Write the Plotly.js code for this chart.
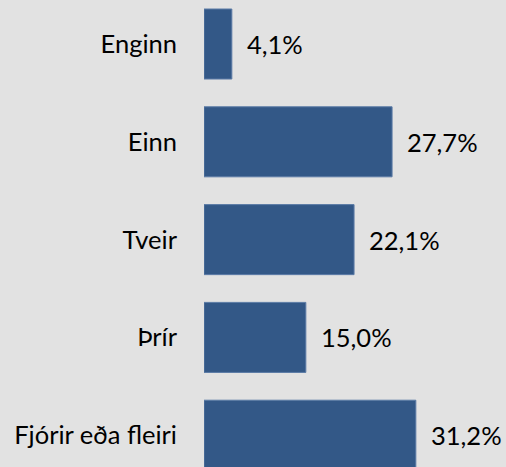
<!DOCTYPE html>
<html>
<head>
<meta charset="utf-8">
<script src="https://cdn.plot.ly/plotly-3.0.1.min.js"></script>
<style>html,body{margin:0;padding:0;background:#e2e2e2;}#chart{width:506px;height:467px;}</style>
</head>
<body>
<div id="chart"></div>
<script>
const categories = ["Enginn", "Einn", "Tveir", "Þrír", "Fjórir eða fleiri"];
const values = [4.1, 27.7, 22.1, 15.0, 31.2];
const valueLabels = ["4,1%", "27,7%", "22,1%", "15,0%", "31,2%"];

const FONT = "Lato, 'Open Sans', sans-serif";

const trace = {
  type: "bar",
  orientation: "h",
  y: categories,
  x: values,
  marker: { color: "#335887", line: { color: "#5b7ba6", width: 1 } },
  hoverinfo: "skip"
};

const annotations = categories.map((c, i) => ({
  x: values[i], y: c, xref: "x", yref: "y",
  text: valueLabels[i], showarrow: false,
  xanchor: "left", yanchor: "middle", xshift: 13,
  font: { family: FONT, size: 25.5, color: "#000" }
}));

const layout = {
  width: 506, height: 467,
  margin: { l: 204, r: 0, t: 0, b: 0, pad: 0 },
  paper_bgcolor: "#e2e2e2",
  plot_bgcolor: "#e2e2e2",
  bargap: 0.284,
  showlegend: false,
  xaxis: { visible: false, range: [0, 44.48], fixedrange: true },
  yaxis: {
    type: "category",
    categoryorder: "array", categoryarray: categories,
    range: [4.325, -0.45], autorange: false,
    showgrid: false, zeroline: false, showline: false, ticks: "",
    ticklabelstandoff: 26,
    tickfont: { family: FONT, size: 25.5, color: "#000" }
  },
  annotations: annotations
};

Plotly.newPlot("chart", [trace], layout, { displayModeBar: false, staticPlot: true });
</script>
</body>
</html>
